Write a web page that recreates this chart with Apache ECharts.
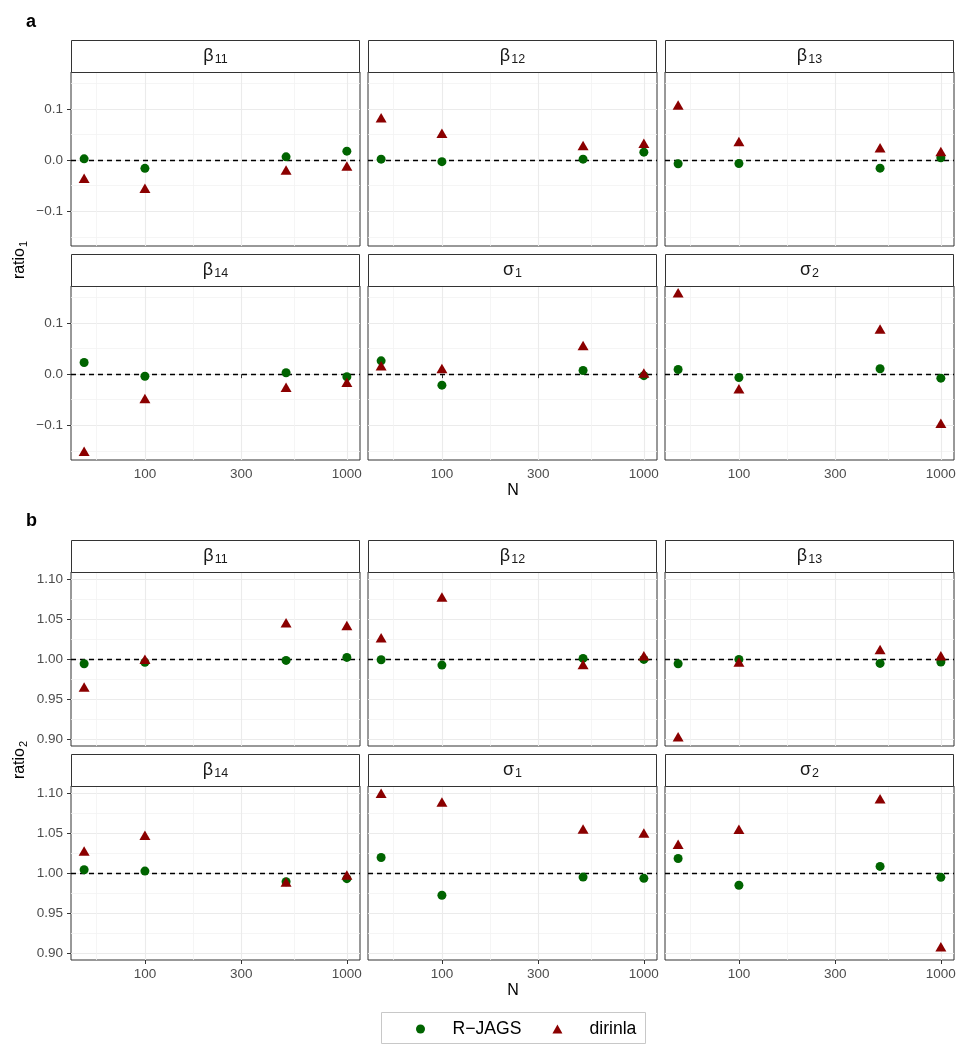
<!DOCTYPE html>
<html>
<head>
<meta charset="utf-8">
<script src="https://cdn.jsdelivr.net/npm/echarts@6/dist/echarts.min.js"></script>
<style>
html,body{margin:0;padding:0;background:#ffffff;}
#chart{width:969px;height:1057px;}
</style>
</head>
<body>
<div id="chart"></div>
<script>
// ---------------- data ----------------
const N = [50, 100, 500, 1000];
const paramSymbols = ['β', 'β', 'β', 'β', 'σ', 'σ'];
const paramSubs = ['11', '12', '13', '14', '1', '2'];
const seriesNames = ['R−JAGS', 'dirinla'];

const xTicks = [100, 300, 1000];
const xMinorTicks = [57.7, 173.2, 547.7];
const ratio1Ticks = [-0.1, 0, 0.1];
const ratio1MinorTicks = [-0.15, -0.05, 0.05, 0.15];
const ratio2Ticks = [0.90, 0.95, 1.00, 1.05, 1.10];
const ratio2MinorTicks = [0.925, 0.975, 1.025, 1.075];

// rows follow paramSymbols/paramSubs order; columns follow N
const ratio1RJAGS = [
  [0.0025, -0.016, 0.0065, 0.0176],
  [0.002, -0.003, 0.002, 0.0157],
  [-0.007, -0.0065, -0.0157, 0.0045],
  [0.0229, -0.004, 0.0027, -0.005],
  [0.026, -0.0215, 0.0072, -0.003],
  [0.0092, -0.0065, 0.0105, -0.0078]
];
const ratio1Dirinla = [
  [-0.0387, -0.058, -0.0224, -0.0146],
  [0.0796, 0.0495, 0.0254, 0.030],
  [0.1048, 0.0335, 0.021, 0.0139],
  [-0.154, -0.051, -0.0288, -0.019],
  [0.0135, 0.0077, 0.0529, -0.001],
  [0.156, -0.0315, 0.085, -0.099]
];
const ratio2RJAGS = [
  [0.9942, 0.9959, 0.9983, 1.0021],
  [0.9992, 0.9925, 1.0008, 0.9996],
  [0.9942, 0.9996, 0.9946, 0.9963],
  [1.0042, 1.0025, 0.9893, 0.993],
  [1.0195, 0.9723, 0.995, 0.9934],
  [1.0182, 0.9848, 1.0083, 0.9947]
];
const ratio2Dirinla = [
  [0.963, 0.9978, 1.0432, 1.0398],
  [1.0245, 1.0755, 0.9913, 1.0022],
  [0.9012, 0.9945, 1.0101, 1.0021],
  [1.0257, 1.0452, 0.9869, 0.9955],
  [1.0977, 1.0868, 1.0529, 1.0481],
  [1.0341, 1.0527, 1.0908, 0.906]
];

// ---------------- layout / style ----------------
const FONT = '"Liberation Sans", Arial, Helvetica, sans-serif';
const XMIN = 43.05, XMAX = 1161.6;
const colLeft = [71, 368, 665];
const W = 289, H = 174, STRIP = 32;
const GREEN = '#006400', RED = '#8B0000';

const minusFmt = (v, d) => (v < -1e-9 ? '\u2212' : '') + Math.abs(v).toFixed(d);

const panels = [
  { letter: 'a', letterY: 22, stripTops: [40, 254], plotTops: [72, 286],
    min: -0.168, max: 0.1725, ref: 0, major: ratio1Ticks, minor: ratio1MinorTicks,
    fmt: v => minusFmt(v, 1), rj: ratio1RJAGS, di: ratio1Dirinla,
    titleSub: '1', titleY: 260, nY: 491 },
  { letter: 'b', letterY: 521, stripTops: [540, 754], plotTops: [572, 786],
    min: 0.8915, max: 1.1087, ref: 1, major: ratio2Ticks, minor: ratio2MinorTicks,
    fmt: v => minusFmt(v, 2), rj: ratio2RJAGS, di: ratio2Dirinla,
    titleSub: '2', titleY: 760, nY: 991 }
];

const grid = [], xAxis = [], yAxis = [], series = [], graphic = [];
let g = 0;

panels.forEach(p => {
  graphic.push({ type: 'text', x: 26, y: p.letterY, z: 10,
    style: { text: p.letter, font: 'bold 18px ' + FONT, fill: '#000',
      textAlign: 'left', textVerticalAlign: 'middle', align: 'left', verticalAlign: 'middle' } });
  graphic.push({ type: 'text', x: 513, y: p.nY, z: 10,
    style: { text: 'N', font: '16px ' + FONT, fill: '#000',
      textAlign: 'center', textVerticalAlign: 'middle', align: 'center', verticalAlign: 'middle' } });
  graphic.push({ type: 'text', x: 20, y: p.titleY, rotation: Math.PI / 2, z: 10,
    style: { text: '{t|ratio}{s|' + p.titleSub + '}',
      rich: { t: { fontSize: 16, fontFamily: FONT, fill: '#000', color: '#000' },
              s: { fontSize: 11, fontFamily: FONT, fill: '#000', color: '#000', padding: [8, 0, 0, 1] } },
      textAlign: 'center', textVerticalAlign: 'middle', align: 'center', verticalAlign: 'middle' } });

  for (let r = 0; r < 2; r++) {
    for (let c = 0; c < 3; c++) {
      const k = r * 3 + c;
      const bottom = r === 1;
      const left = c === 0;
      grid.push({ left: colLeft[c], top: p.plotTops[r], width: W, height: H,
        show: true, borderColor: '#333333', borderWidth: 1, backgroundColor: '#ffffff' });

      // strip
      graphic.push({ type: 'rect', z: 5,
        shape: { x: colLeft[c] + 0.5, y: p.stripTops[r] + 0.5, width: W - 1, height: STRIP },
        style: { fill: '#ffffff', stroke: '#333333', lineWidth: 1 } });
      graphic.push({ type: 'text', z: 6, x: colLeft[c] + W / 2, y: p.stripTops[r] + STRIP / 2,
        style: { text: '{g|' + paramSymbols[k] + '}{s|' + paramSubs[k] + '}',
          rich: { g: { fontSize: 18, fontFamily: FONT, fill: '#1A1A1A', color: '#1A1A1A' },
                  s: { fontSize: 12.5, fontFamily: FONT, fill: '#1A1A1A', color: '#1A1A1A', padding: [8, 0, 0, 1] } },
          textAlign: 'center', textVerticalAlign: 'middle', align: 'center', verticalAlign: 'middle' } });

      // x axes: major + minor grid lines
      xAxis.push({ gridIndex: g, type: 'log', logBase: 10, min: XMIN, max: XMAX,
        axisLine: { show: false },
        axisTick: { show: bottom, customValues: xTicks, length: 4, lineStyle: { color: '#333333', width: 1 } },
        axisLabel: { show: bottom, customValues: xTicks, margin: 7, color: '#4D4D4D', fontSize: 13.5,
          fontFamily: FONT, formatter: v => String(Math.round(v)) },
        splitLine: { show: true, customValues: xTicks, lineStyle: { color: '#EBEBEB', width: 1.1 } } });
      xAxis.push({ gridIndex: g, type: 'log', logBase: 10, min: XMIN, max: XMAX,
        axisLine: { show: false },
        axisTick: { show: false, customValues: xMinorTicks },
        axisLabel: { show: false, customValues: xMinorTicks },
        splitLine: { show: true, customValues: xMinorTicks, lineStyle: { color: '#F3F3F3', width: 0.8 } } });

      // y axes: major + minor grid lines
      yAxis.push({ gridIndex: g, type: 'value', min: p.min, max: p.max, position: 'left',
        axisLine: { show: false },
        axisTick: { show: left, customValues: p.major, length: 4, lineStyle: { color: '#333333', width: 1 } },
        axisLabel: { show: left, customValues: p.major, margin: 8, color: '#4D4D4D', fontSize: 13.5,
          fontFamily: FONT, formatter: p.fmt },
        splitLine: { show: true, customValues: p.major, lineStyle: { color: '#EBEBEB', width: 1.1 } } });
      yAxis.push({ gridIndex: g, type: 'value', min: p.min, max: p.max, position: 'left',
        axisLine: { show: false },
        axisTick: { show: false, customValues: p.minor },
        axisLabel: { show: false, customValues: p.minor },
        splitLine: { show: true, customValues: p.minor, lineStyle: { color: '#F3F3F3', width: 0.8 } } });

      series.push({ type: 'scatter', name: seriesNames[0], xAxisIndex: 2 * g, yAxisIndex: 2 * g,
        data: N.map((n, i) => [n, p.rj[k][i]]),
        symbol: 'circle', symbolSize: 9, itemStyle: { color: GREEN, opacity: 1 }, z: 3,
        silent: true,
        markLine: { silent: true, symbol: ['none', 'none'], label: { show: false }, z: 2,
          animation: false,
          lineStyle: { color: '#000000', type: [5, 4], width: 1.3 },
          emphasis: { disabled: true },
          data: [{ yAxis: p.ref }] } });
      series.push({ type: 'scatter', name: seriesNames[1], xAxisIndex: 2 * g, yAxisIndex: 2 * g,
        data: N.map((n, i) => [n, p.di[k][i]]),
        symbol: 'triangle', symbolSize: [11, 9.5], symbolOffset: [0, -1.6],
        itemStyle: { color: RED, opacity: 1 }, z: 4, silent: true });
      g++;
    }
  }
});

// legend box
graphic.push({ type: 'rect', z: 0,
  shape: { x: 381.5, y: 1012.5, width: 264, height: 31 },
  style: { fill: '#ffffff', stroke: '#C8C8C8', lineWidth: 1 } });

const option = {
  animation: false,
  backgroundColor: '#ffffff',
  textStyle: { fontFamily: FONT },
  grid, xAxis, yAxis, series, graphic,
  legend: {
    show: true, left: 411, top: 1015, orient: 'horizontal',
    itemWidth: 10, itemHeight: 9, itemGap: 31, selectedMode: false,
    textStyle: { fontSize: 17.6, fontFamily: FONT, color: '#000000', padding: [0, 0, 0, 22] },
    data: [
      { name: seriesNames[0], icon: 'circle' },
      { name: seriesNames[1], icon: 'triangle' }
    ]
  }
};

const chart = echarts.init(document.getElementById('chart'), null, { renderer: 'canvas' });
chart.setOption(option);
</script>
</body>
</html>
